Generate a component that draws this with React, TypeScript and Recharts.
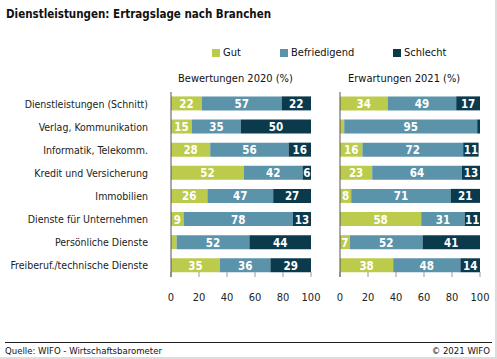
import React from 'react';
import { BarChart, Bar, XAxis, YAxis, LabelList } from 'recharts';

const categories = [
  'Dienstleistungen (Schnitt)',
  'Verlag, Kommunikation',
  'Informatik, Telekomm.',
  'Kredit und Versicherung',
  'Immobilien',
  'Dienste für Unternehmen',
  'Persönliche Dienste',
  'Freiberuf./technische Dienste',
];

const seriesNames = ['Gut', 'Befriedigend', 'Schlecht'];
const seriesColors = ['#bccb4b', '#5b93aa', '#0b3a4d'];

const gut2020 = [22, 15, 28, 52, 26, 9, 4, 35];
const befriedigend2020 = [57, 35, 56, 42, 47, 78, 52, 36];
const schlecht2020 = [22, 50, 16, 6, 27, 13, 44, 29];

const gut2021 = [34, 3, 16, 23, 8, 58, 7, 38];
const befriedigend2021 = [49, 95, 72, 64, 71, 31, 52, 48];
const schlecht2021 = [17, 2, 11, 13, 21, 11, 41, 14];

const xTicks = [0, 20, 40, 60, 80, 100];

const FONT = '"DejaVu Sans Condensed", "DejaVu Sans", sans-serif';

const build = (g: number[], b: number[], s: number[]) =>
  categories.map((name, i) => ({ name, Gut: g[i], Befriedigend: b[i], Schlecht: s[i] }));

const data2020 = build(gut2020, befriedigend2020, schlecht2020);
const data2021 = build(gut2021, befriedigend2021, schlecht2021);

const CategoryTick = (props: any) => {
  const { x, y, payload } = props;
  return (
    <text x={x} y={y} textAnchor="end" dominantBaseline="central" fill="#222" fontSize={10.5} fontFamily={FONT}>
      {payload.value}
    </text>
  );
};

const SegmentLabel = (props: any) => {
  const { x, y, width, height, value } = props;
  if (Number(value) < 5) return null;
  return (
    <text
      x={Number(x) + Number(width) / 2}
      y={Number(y) + Number(height) / 2 + 0.5}
      textAnchor="middle"
      dominantBaseline="central"
      fill="#fff"
      fontSize={11.5}
      fontWeight="bold"
      fontFamily={FONT}
    >
      {value}
    </text>
  );
};

function Panel({ data, showLabels, width, left }: { data: any[]; showLabels: boolean; width: number; left: number }) {
  return (
    <BarChart
      layout="vertical"
      width={width}
      height={359}
      data={data}
      margin={{ top: 91, right: 17, bottom: 52, left: 0 }}
      barCategoryGap="19%"
      style={{ position: 'absolute', left, top: 0 }}
    >
      <XAxis
        xAxisId="top"
        orientation="top"
        type="number"
        domain={[0, 100]}
        ticks={xTicks}
        allowDataOverflow
        height={1}
        axisLine={false}
        tick={false}
        tickSize={-5}
        stroke="#999"
      />
      <XAxis
        type="number"
        domain={[0, 100]}
        ticks={xTicks}
        allowDataOverflow
        height={30}
        axisLine={false}
        tickSize={-5}
        tickMargin={21}
        stroke="#999"
        tick={{ fill: '#222', fontSize: 11, fontFamily: FONT }}
      />
      <YAxis
        type="category"
        dataKey="name"
        width={showLabels ? 171 : 20}
        interval={0}
        tickLine={false}
        tickSize={0}
        tickMargin={23}
        stroke="#555"
        tick={showLabels ? <CategoryTick /> : false}
      />
      {seriesNames.map((name, i) => (
        <Bar key={name} dataKey={name} stackId="a" fill={seriesColors[i]} isAnimationActive={false}>
          <LabelList dataKey={name} content={<SegmentLabel />} />
        </Bar>
      ))}
    </BarChart>
  );
}

export default function App() {
  return (
    <div
      style={{
        position: 'absolute',
        left: 0,
        top: 0,
        width: 497,
        height: 359,
        background: '#fff',
        fontFamily: FONT,
        color: '#111',
        boxSizing: 'border-box',
        borderRight: '2px solid #ddd',
        borderBottom: '2px solid #ddd',
        overflow: 'hidden',
      }}
    >
      <div style={{ position: 'absolute', left: 6, top: 7, fontSize: 11.5, fontWeight: 'bold', whiteSpace: 'nowrap' }}>
        Dienstleistungen: Ertragslage nach Branchen
      </div>
      {seriesNames.map((name, i) => (
        <div
          key={name}
          style={{
            position: 'absolute',
            left: [212, 280, 393][i],
            top: 46,
            fontSize: 11,
            display: 'flex',
            alignItems: 'center',
            whiteSpace: 'nowrap',
          }}
        >
          <span style={{ display: 'inline-block', width: 8, height: 8, background: seriesColors[i], marginRight: 3 }} />
          {name}
        </div>
      ))}
      <div style={{ position: 'absolute', left: 178, top: 72, fontSize: 11, whiteSpace: 'nowrap' }}>Bewertungen 2020 (%)</div>
      <div style={{ position: 'absolute', left: 348, top: 72, fontSize: 11, whiteSpace: 'nowrap' }}>Erwartungen 2021 (%)</div>
      <Panel data={data2020} showLabels width={328} left={0} />
      <Panel data={data2021} showLabels={false} width={177} left={320} />
      <div style={{ position: 'absolute', left: 5, width: 487, top: 342, borderTop: '1px solid #222' }} />
      <div style={{ position: 'absolute', left: 5, top: 345, fontSize: 9.5, whiteSpace: 'nowrap' }}>
        Quelle: WIFO - Wirtschaftsbarometer
      </div>
      <div style={{ position: 'absolute', right: 5, top: 345, fontSize: 9.5, whiteSpace: 'nowrap' }}>© 2021 WIFO</div>
    </div>
  );
}
